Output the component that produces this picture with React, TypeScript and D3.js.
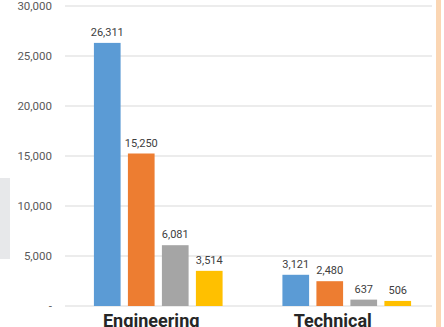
import React from "react";
import * as d3 from "d3";

const categories = ["Engineering", "Technical"];
const seriesNames = ["S1", "S2", "S3", "S4"];
const engineeringValues = [26311, 15250, 6081, 3514];
const technicalValues = [3121, 2480, 637, 506];
const yTicks = [0, 5000, 10000, 15000, 20000, 25000, 30000];
const seriesColors = ["#5b9bd5", "#ed7d31", "#a5a5a5", "#ffc000"];

const W = 444;
const H = 327;

export default function App() {
  const data = [engineeringValues, technicalValues];
  const y = d3.scaleLinear().domain([0, 30000]).range([306, 6]);
  const x0 = d3.scaleBand().domain(categories).range([64, 441]).paddingInner(0).paddingOuter(0);
  const x1 = d3
    .scaleBand()
    .domain(seriesNames)
    .range([0, x0.bandwidth()])
    .paddingInner(0.215)
    .paddingOuter(0.88);
  const fmt = d3.format(",");
  const gridLeft = 65;
  const gridRight = 432;

  return (
    <svg
      width={W}
      height={H}
      style={{ position: "absolute", left: 0, top: 0, background: "#ffffff" }}
    >
      <rect x={0} y={178} width={10} height={81} fill="#e7e8ea" />
      <rect x={436} y={0} width={5} height={H} fill="#fbd6b3" />
      {yTicks.map((t) => (
        <g key={t}>
          <line x1={gridLeft} x2={gridRight} y1={y(t)} y2={y(t)} stroke="#d9d9d9" strokeWidth={1} />
          <text
            x={52}
            y={y(t)}
            dy="0.35em"
            textAnchor="end"
            fontFamily="Roboto, 'Open Sans', sans-serif"
            fontSize={11.5}
            fill="#595959"
          >
            {t === 0 ? "-" : fmt(t)}
          </text>
        </g>
      ))}
      {categories.map((c, ci) => (
        <g key={c} transform={`translate(${x0(c)},0)`}>
          {seriesNames.map((s, si) => {
            const v = data[ci][si];
            const bx = x1(s) as number;
            return (
              <g key={s}>
                <rect
                  x={bx}
                  y={y(v)}
                  width={x1.bandwidth()}
                  height={y(0) - y(v)}
                  fill={seriesColors[si]}
                />
                <text
                  x={bx + x1.bandwidth() / 2}
                  y={y(v) - 7}
                  textAnchor="middle"
                  fontFamily="Roboto, 'Open Sans', sans-serif"
                  fontSize={11}
                  fill="#404040"
                >
                  {fmt(v)}
                </text>
              </g>
            );
          })}
          <text
            x={x0.bandwidth() / 2 - (ci === 0 ? 7 : 14)}
            y={327}
            textAnchor="middle"
            fontFamily="Roboto, 'Open Sans', sans-serif"
            fontWeight="bold"
            fontSize={18}
            fill="#262626"
          >
            {c}
          </text>
        </g>
      ))}
    </svg>
  );
}
